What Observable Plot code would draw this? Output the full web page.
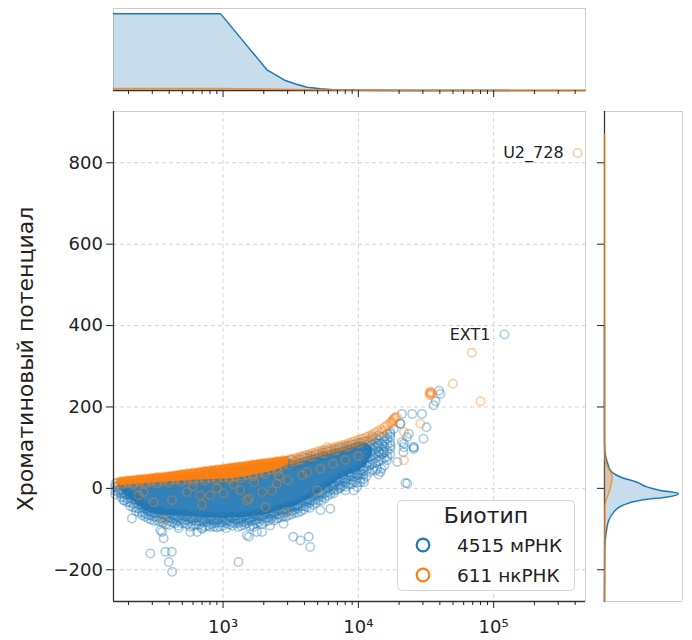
<!DOCTYPE html>
<html><head><meta charset="utf-8">
<script src="https://cdn.jsdelivr.net/npm/d3@7"></script>
<script src="https://cdn.jsdelivr.net/npm/@observablehq/plot@0.6"></script>
<style>
body{margin:0;background:#fff;width:692px;height:640px;position:relative;overflow:hidden;font-family:"DejaVu Sans";color:#222}
.abs{position:absolute;top:0}
</style></head><body>
<div id="mainPanel" class="abs" style="left:0"></div>
<div id="topPanel" class="abs" style="left:0"></div>
<div id="rightPanel" class="abs" style="left:590px"></div>
<div id="ylabel" style="position:absolute;left:25px;top:359px;transform:translate(-50%,-50%) rotate(-90deg);font-size:22px;white-space:nowrap;color:#222">Хроматиновый потенциал</div>
<div id="legend" style="position:absolute;left:397px;top:500px"></div>
<script>
// ---- axes ----
const xDomain = [155, 477000];
const yDomain = [-278, 926];
const majorX = [1e3, 1e4, 1e5];
const xTickLabels = ["10³", "10⁴", "10⁵"];
const minorX = [200,300,400,500,600,700,800,900,2000,3000,4000,5000,6000,7000,8000,9000,20000,30000,40000,50000,60000,70000,80000,90000,200000,300000,400000];
const yTicks = [-200, 0, 200, 400, 600, 800];
const yTickLabels = ["−200", "0", "200", "400", "600", "800"];

// ---- legend ----
const seriesNames = ["4515 мРНК", "611 нкРНК"];
const legendTitle = "Биотип";
const blue = "#1f77b4", orange = "#ff7f0e";

// ---- dense core of the mRNA cloud ----
const coreX  = [168,177,196,217,240,266,294,326,361,400,443,490,543,601,665,736,815,902,1000,1110,1230,1360,1500,1660,1840,2040,2260,2500,2770,3060,3390,3750,4150,4600,5090,5630,6240,6910,7650,8460,9370,10400,11500,12700];
const coreLo = [4,-6,-20,-31,-44,-55,-60,-63,-65,-66,-67,-68,-69,-70,-71,-72,-73,-73,-74,-73,-73,-72,-71,-69,-67,-65,-61,-56,-52,-48,-44,-37,-29,-21,-12,-3,6,17,26,32,38,45,56,84];
const coreHi = [17,18,20,21,23,24,26,28,29,31,33,35,37,39,41,43,45,47,49,51,53,55,57,59,61,63,65,67,69,71,68,72,76,81,85,89,92,96,100,105,110,114,112,100];

// ---- dense core of the ncRNA ridge ----
const ncCoreX  = [165,177,196,217,240,266,294,326,361,400,443,490,543,601,665,736,815,902,1000,1110,1230,1360,1500,1660,1840,2040,2260,2500,2770,3060];
const ncCoreLo = [9,8,9,10,11,12,13,14,15,16,17,18,19,20,21,21,22,22,23,23,25,27,29,32,35,38,42,46,52,62];
const ncCoreHi = [23,26,28,29,31,32,34,36,37,39,41,43,45,47,49,51,53,55,57,59,61,63,65,67,69,71,73,75,77,78];

// ---- individual mRNA rings, column set A ----
const mrnaColX = [160,177,196,217,240,266,294,326,361,400,443,490,543,601,665,736,815,902,1000,1110,1230,1360,1500,1660,1840,2040,2260,2500,2770,3060,3390,3750,4150,4600,5090,5630,6240,6910,7650,8460,9370,10400,11500,12700,14100,15600,17200];
const mrnaColY = [
 [4,-6,12,-15],[-4,-14,-22,8],[-16,-26,-34,-8],[-27,-38,-47,-20],[-40,-50,-60,-30],[-50,-62,-70,-44],
 [-58,-66,-77,-50],[-60,-70,-79,-54],[-63,-72,-84,-56],[-62,-73,-81,-90],[-65,-76,-70,-86],[-66,-75,-85,-60],
 [-64,-77,-88,-70],[-68,-79,-73,-92],[-66,-80,-90,-72],[-70,-82,-76,-94],[-69,-78,-88,-74],[-72,-84,-78,-96],
 [-70,-82,-92,-76],[-73,-80,-89,-68],[-68,-79,-86,-74],[-71,-83,-77,-92],[-66,-78,-86,-72],[-70,-80,-64,-90],
 [-62,-74,-84,-68],[-64,-72,-58,-82],[-56,-68,-76,-62],[-55,-64,-50,-74],[-48,-60,-70,-54],[-47,-55,-42,-66,62],
 [-40,-52,-60,-46,66,58],[-36,-44,-30,-56,71,63],[-26,-38,-46,-32,75,68],[-20,-30,-14,-40,80,72],[-10,-22,-30,-16,84,76],
 [-2,-12,4,-24,88,80],[6,-4,-14,12,92,84],[18,8,-4,24,96,88],[26,16,6,32,100,92],[32,22,10,38,104,96],
 [38,28,16,46,108,100],[46,36,24,54,112,104],[54,44,30,62,116,108,86,74],[60,70,82,96,108,120,46,128],[66,78,90,104,118,130,34],
 [74,90,102,116,128,56],[84,98,112,126,138]
];
// ---- individual mRNA rings, column set B ----
const mrnaColX2 = [168,186,206,228,252,280,310,343,380,421,466,516,572,632,700,775,858,950,1055,1170,1295,1430,1580,1750,1940,2150,2380,2630,2910,3220,3570,3950,4370,4840,5360,5930,6570,7270,8050,8910,9860,10900,12100,13400,14800,16400];
const mrnaColY2 = [
 [-2,-10,8],[-12,-22,-30,4],[-24,-34,-44,-16],[-36,-48,-56,-28],[-48,-58,-66,-40],[-56,-66,-74,-50],
 [-60,-70,-80,-54],[-62,-74,-82,-58],[-64,-76,-68,-88],[-66,-74,-84,-60],[-68,-80,-72,-92],[-70,-78,-86,-64],
 [-70,-82,-74,-94],[-72,-80,-90,-66],[-73,-84,-78,-97],[-74,-82,-92,-68],[-75,-86,-80,-94],[-76,-84,-94,-70],
 [-75,-86,-80,-98],[-74,-84,-92,-70],[-74,-85,-79,-95],[-72,-82,-90,-67],[-71,-81,-76,-93],[-69,-78,-86,-64],
 [-66,-76,-70,-88],[-63,-72,-80,-58],[-58,-68,-63,-79],[-54,-64,-72,-50],[-50,-60,-55,-70,66],[-46,-56,-64,-42,70],
 [-40,-50,-45,-60,72,64],[-33,-44,-52,-29,76],[-26,-36,-31,-48,80,73],[-18,-28,-36,-14,84],[-9,-20,-14,-30,88,81],
 [0,-10,-18,4,92],[10,0,5,-12,96,88],[18,8,0,22,100],[25,14,20,4,104,97],[31,20,10,36,108],
 [37,26,32,14,112,104],[44,34,22,50,116],[56,66,78,90,104,116,40],[62,74,86,100,112,124],[70,84,96,110,126,48],
 [78,92,108,122,134]
];
const mrnaOutliers = [[166,3],[172,-8],[184,-29],[190,-15],[212,-74],[290,-160],[344,-103],[354,-107],[364,-123],[374,-156],[397,-181],[418,-156],[420,-205],[470,-98],[573,-107],[642,-107],[700,-100],[805,-95],[1300,-181],[1500,-115],[1550,-119],[1680,-95],[1780,-107],[1940,-107],[2230,-91],[2800,-87],[3300,-119],[3730,-128],[4300,-119],[4410,-144],[5250,-54],[6200,-50],[6600,-5],[7360,3],[8020,-5],[9250,-5],[9800,3],[11000,15],[13400,44],[14550,40],[14200,89],[13800,101],[17300,105],[18300,146],[20400,159],[21000,114],[21500,89],[21700,110],[22300,13],[23000,12],[23600,134],[25000,183],[25700,101],[25700,97],[21000,183],[29500,183],[30300,122],[31900,150],[36000,204],[37200,214],[39400,240],[40400,232],[14060,110],[15300,86],[16300,69],[13770,48],[10360,15],[19400,65],[21650,101],[25500,101],[22900,126],[17260,134],[20460,159],[120000,378]];

// ---- individual ncRNA rings by column ----
const ncColX = [165,177,196,217,240,266,294,326,361,400,443,490,543,601,665,736,815,902,1000,1110,1230,1360,1500,1660,1840,2040,2260,2500,2770,3060,3220,3390,3570,3750,3950,4150,4370,4600,4840,5090,5360,5630,5930,6240,6570,6910,7270,7650,8050,8460,8910,9370,9860,10400,10900,11500,12100,12700,13400,14100,14800,15600,16400,17200];
const ncColY = [
 [15,12],[18,12,8],[20,13,16],[21,14,9],[23,15,19],[24,16,10],[26,17,21],[28,18,12],[29,19,24],[31,20,14],
 [33,21,27],[35,22,16],[37,23,30],[39,24,18],[41,25,33],[43,25,19],[45,26,36],[47,26,20],[49,27,38],[51,27,22],
 [53,29,41],[55,31,25],[57,33,45],[59,36,30],[61,39,50],[63,42,35],[65,46,56],[67,50,42],[69,56,62],[71,66,58],
 [72],[74,66],[76,69],[78,70],[80],[82],[84,77],[87,78],[89],[91],[93,86],[95,86],[96],[98],[100,92],[102,94],[104],[106],[108,101],[111,103],
 [113],[116],[118,110],[121,112],[123],[126],[129,121],[133,124],[137],[141],[145,138],[150,142],[155],[160]
];
const ncOutliers = [[259,-9],[307,-34],[363,-78],[541,-9],[680,-17],[805,-17],[1005,-12],[1500,-29],[1340,-5],[420,-29],[237,-17],[1560,-25],[1940,-9],[2300,-5],[2500,12],[2060,-46],[2890,-58],[3840,32],[4960,-5],[5240,48],[5880,101],[600,5],[900,0],[1200,10],[700,-40],[3000,20],[4200,40],[6500,60],[8000,70],[10000,80],[2600,30],[1700,15],
 [17500,163],[17900,166],[18200,170],[18500,172],[18800,174],[19200,176],[18000,160],[33500,231],[34000,234],[34500,236],[35000,233],[34200,229],[33800,237],
 [21700,69],[28700,159],[21700,138],[50000,257],[69000,333],[80000,214],[417000,824]];

// ---- annotations ----
const labelNames = ["U2_728", "EXT1"];
const labelX = [417000, 120000];
const labelY = [824, 378];

// ---- marginal densities ----
const topX    = [155, 960, 2110, 2890, 3430, 4180, 5240, 6550, 10300, 20000, 130000];
const topMrna = [1.0, 1.0, 0.27, 0.13, 0.085, 0.043, 0.022, 0.01, 0.002, 0, 0];
const topNcX  = [155, 960, 2110, 4180, 10300, 30000, 477000];
const topNc   = [0.025, 0.025, 0.02, 0.01, 0.004, 0.001, 0];
const rightY    = [-278,-152,-128,-103,-78,-58,-42,-29,-21,-13,-5,3,15,28,44,60,93,135,400];
const rightMrna = [0,0.003,0.01,0.027,0.058,0.126,0.24,0.49,0.85,1.0,0.757,0.58,0.44,0.216,0.08,0.045,0.005,0,0];
const rightNcY  = [-278,-45,-30,-10,10,28,50,69,100,870];
const rightNc   = [0,0.005,0.02,0.06,0.09,0.104,0.05,0.01,0,0];

// ---- build tables ----
const core = coreX.map((x,i)=>({x, lo: coreLo[i], hi: coreHi[i]}));
const ncCore = ncCoreX.map((x,i)=>({x, lo: ncCoreLo[i], hi: ncCoreHi[i]}));
const mrnaPts = [];
mrnaColX.forEach((x,i)=>mrnaColY[i].forEach(y=>mrnaPts.push({x,y})));
mrnaColX2.forEach((x,i)=>mrnaColY2[i].forEach(y=>mrnaPts.push({x,y})));
mrnaOutliers.forEach(([x,y])=>mrnaPts.push({x,y}));
const ncPts = [];
ncColX.forEach((x,i)=>ncColY[i].forEach(y=>ncPts.push({x,y})));
ncOutliers.forEach(([x,y])=>ncPts.push({x,y}));
const labels = labelNames.map((name,i)=>({name, x: labelX[i], y: labelY[i]}));
const xLab = new Map(majorX.map((v,i)=>[v, xTickLabels[i]]));
const yLab = new Map(yTicks.map((v,i)=>[v, yTickLabels[i]]));
const topData = topX.map((x,i)=>({x, d: topMrna[i]}));
const topNcData = topNcX.map((x,i)=>({x, d: topNc[i]}));
const rightData = rightY.map((y,i)=>({y, d: rightMrna[i]}));
const rightNcData = rightNcY.map((y,i)=>({y, d: rightNc[i]}));

const gridStyle = {stroke: "#cfcfcf", strokeDasharray: "4,3", strokeWidth: 0.9};
const dark = "#333", light = "#cccccc";
const baseStyle = {background: "transparent", fontFamily: "DejaVu Sans", fontSize: "18px", color: "#222", overflow: "visible"};

const mainChart = Plot.plot({
  width: 600, height: 640, marginLeft: 113, marginRight: 15, marginTop: 111, marginBottom: 39,
  style: baseStyle,
  x: {type: "log", domain: xDomain},
  y: {domain: yDomain},
  marks: [
    Plot.ruleX(majorX, gridStyle),
    Plot.ruleY(yTicks, gridStyle),
    Plot.areaY(core, {x: "x", y1: "lo", y2: "hi", fill: blue, fillOpacity: 0.92}),
    Plot.dot(mrnaPts, {x: "x", y: "y", r: 4.2, stroke: blue, strokeOpacity: 0.38, strokeWidth: 1.6}),
    Plot.areaY(ncCore, {x: "x", y1: "lo", y2: "hi", fill: orange, fillOpacity: 0.95}),
    Plot.dot(ncPts, {x: "x", y: "y", r: 4.2, stroke: orange, strokeOpacity: 0.4, strokeWidth: 1.6}),
    Plot.text(labels, {x: "x", y: "y", text: "name", textAnchor: "end", dx: -14, fontSize: 16, fill: "#222"}),
    Plot.ruleX([xDomain[1]], {stroke: light, strokeWidth: 1}),
    Plot.ruleY([yDomain[1]], {stroke: light, strokeWidth: 1}),
    Plot.ruleX([xDomain[0]], {stroke: dark, strokeWidth: 1.3}),
    Plot.ruleY([yDomain[0]], {stroke: dark, strokeWidth: 1.3}),
    Plot.axisX({ticks: majorX, tickSize: 7, tickPadding: 12, tickFormat: d => xLab.get(d), anchor: "bottom", label: null, fontSize: 18}),
    Plot.axisX({ticks: minorX, tickSize: 4, tickFormat: () => "", anchor: "bottom", label: null}),
    Plot.axisY({ticks: yTicks, tickSize: 7, tickPadding: 3.6, tickFormat: d => yLab.get(d), anchor: "left", label: null, fontSize: 18})
  ]
});
document.getElementById("mainPanel").append(mainChart);

const curveTop = "linear";
const topChart = Plot.plot({
  width: 600, height: 100, marginLeft: 113, marginRight: 15, marginTop: 8, marginBottom: 10,
  style: baseStyle,
  x: {type: "log", domain: xDomain},
  y: {domain: [0, 1.07], axis: null},
  marks: [
    Plot.ruleX([xDomain[0], xDomain[1]], {stroke: light}),
    Plot.ruleY([1.07], {stroke: light}),
    Plot.ruleY([0], {stroke: dark, strokeWidth: 1.3}),
    Plot.areaY(topData, {x: "x", y: "d", fill: blue, fillOpacity: 0.25, curve: curveTop}),
    Plot.lineY(topData, {x: "x", y: "d", stroke: blue, strokeWidth: 1.5, curve: curveTop}),
    Plot.areaY(topNcData, {x: "x", y: "d", fill: orange, fillOpacity: 0.25, curve: curveTop}),
    Plot.lineY(topNcData, {x: "x", y: "d", stroke: orange, strokeWidth: 1.5, strokeOpacity: 0.8, curve: curveTop}),
    Plot.axisX({ticks: majorX, tickSize: 7, tickFormat: () => "", anchor: "bottom", label: null}),
    Plot.axisX({ticks: minorX, tickSize: 4, tickFormat: () => "", anchor: "bottom", label: null})
  ]
});
document.getElementById("topPanel").append(topChart);

const curveR = "monotone-y";
const rightChart = Plot.plot({
  width: 102, height: 640, marginLeft: 14, marginRight: 10, marginTop: 111, marginBottom: 39,
  style: baseStyle,
  x: {domain: [0, 1.054], axis: null},
  y: {domain: yDomain},
  marks: [
    Plot.ruleX([1.054], {stroke: light}),
    Plot.ruleY([yDomain[0], yDomain[1]], {stroke: light}),
    Plot.ruleX([0], {stroke: dark, strokeWidth: 1.3}),
    Plot.areaX(rightData, {y: "y", x: "d", fill: blue, fillOpacity: 0.25, curve: curveR}),
    Plot.lineX(rightData, {y: "y", x: "d", stroke: blue, strokeWidth: 1.5, curve: curveR}),
    Plot.areaX(rightNcData, {y: "y", x: "d", fill: orange, fillOpacity: 0.25, curve: curveR}),
    Plot.lineX(rightNcData, {y: "y", x: "d", stroke: orange, strokeWidth: 1.5, strokeOpacity: 0.8, curve: curveR}),
    Plot.axisY({ticks: yTicks, tickSize: 7, tickFormat: () => "", anchor: "left", label: null})
  ]
});
document.getElementById("rightPanel").append(rightChart);

// ---- legend ----
const lg = d3.select("#legend").append("svg").attr("width", 178).attr("height", 91)
  .style("font-family", "DejaVu Sans").style("overflow", "visible");
lg.append("rect").attr("x", 0.5).attr("y", 0.5).attr("width", 177).attr("height", 90).attr("rx", 4)
  .attr("fill", "white").attr("fill-opacity", 0.8).attr("stroke", "#d5d5d5");
lg.append("text").attr("x", 89).attr("y", 23).attr("text-anchor", "middle").attr("font-size", 22).attr("fill", "#222").text(legendTitle);
[blue, orange].forEach((c, i) => {
  lg.append("circle").attr("cx", 26).attr("cy", 45 + 30*i).attr("r", 6.3).attr("fill", "none").attr("stroke", c).attr("stroke-width", 2.2);
  lg.append("text").attr("x", 60).attr("y", 52 + 30*i).attr("font-size", 18.5).attr("fill", "#222").text(seriesNames[i]);
});
</script>
</body></html>
